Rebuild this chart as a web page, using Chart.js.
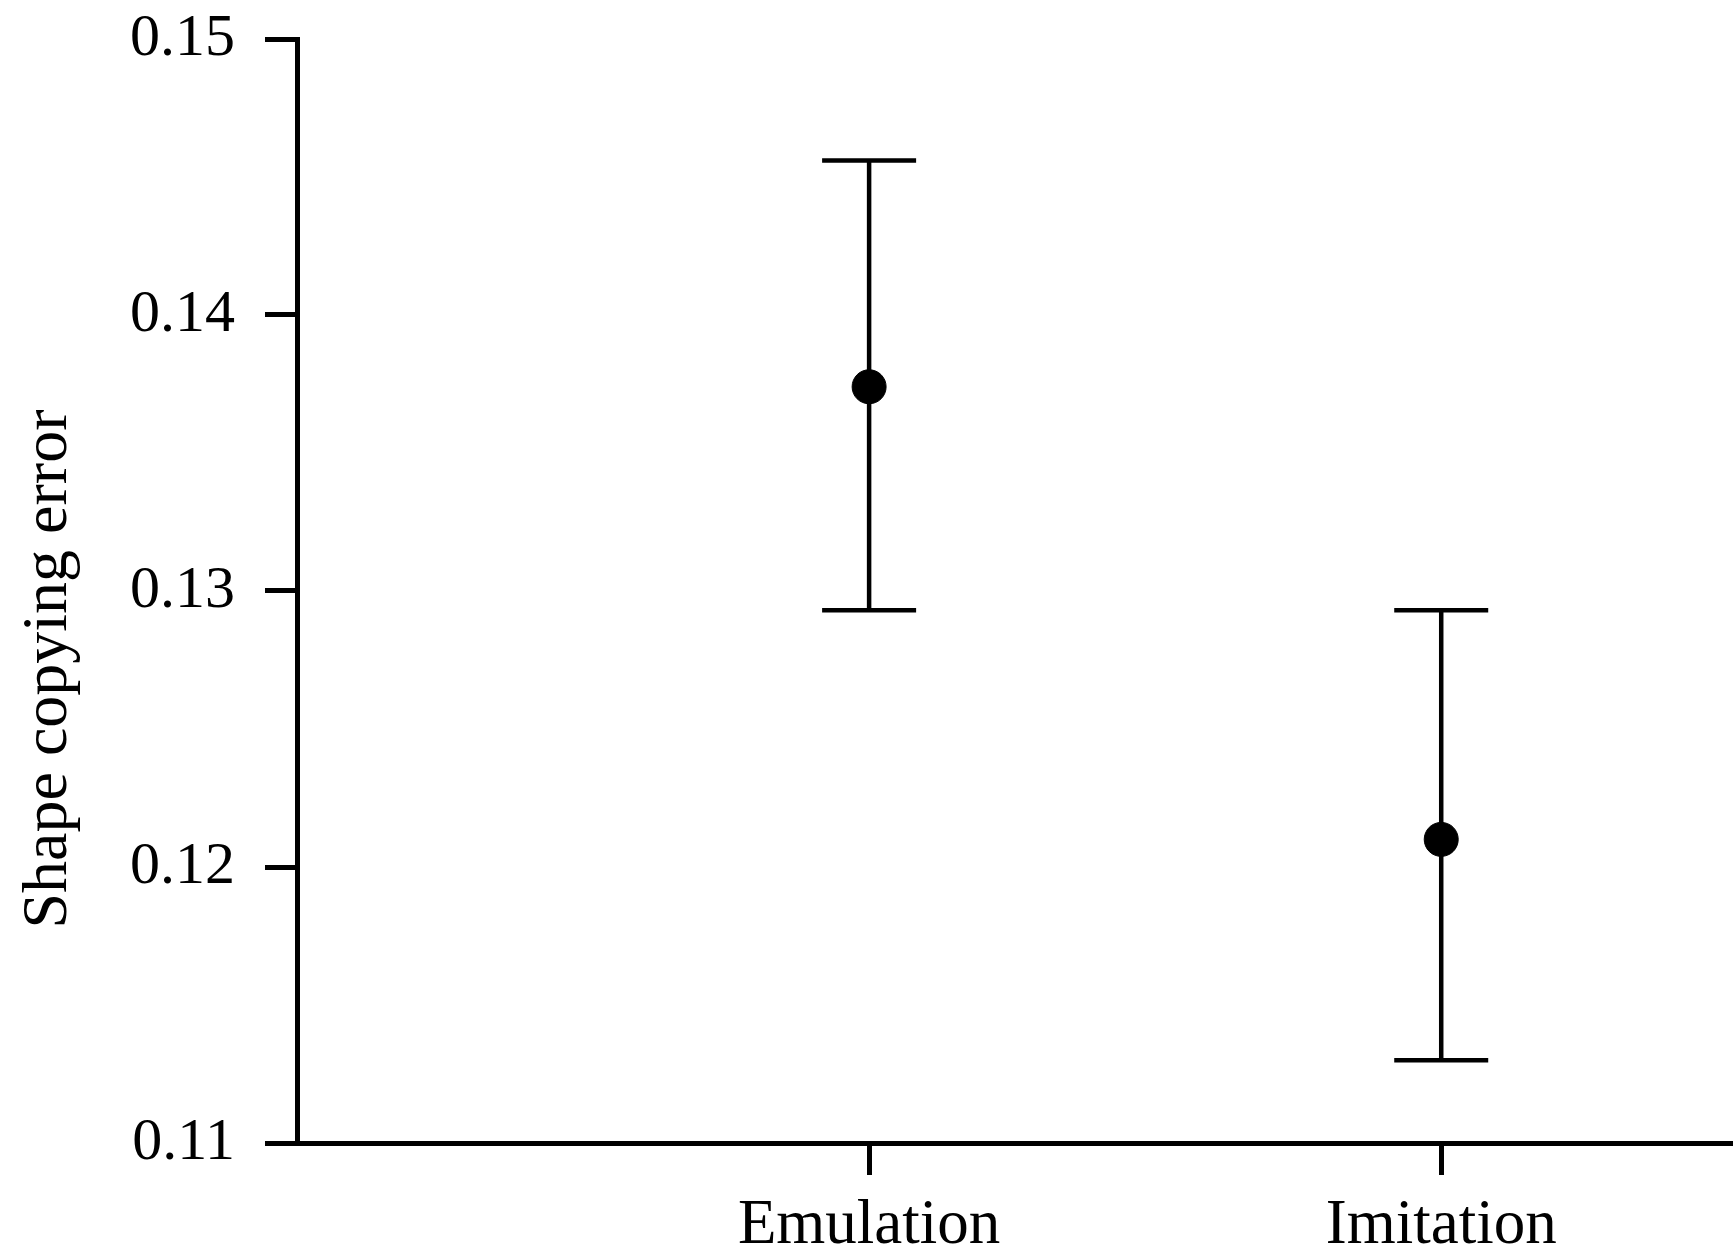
<!DOCTYPE html>
<html>
<head>
<meta charset="utf-8">
<script src="https://cdn.jsdelivr.net/npm/chart.js@4.4.1/dist/chart.umd.min.js"></script>
<style>
  html, body { margin: 0; padding: 0; background: #fff; }
  #wrap { width: 1733px; height: 1250px; position: relative; }
</style>
</head>
<body>
<div id="wrap"><canvas id="chart"></canvas></div>
<script>
// Data
const groups = ['Emulation', 'Imitation'];
const groupPos = [1, 2];
const means = [0.1374, 0.1210];
const upper = [0.1456, 0.1293];
const lower = [0.1293, 0.1130];
const yTicks = [0.11, 0.12, 0.13, 0.14, 0.15];
const yTitle = 'Shape copying error';

Chart.defaults.font.family = '"Liberation Serif", "Times New Roman", serif';
Chart.defaults.color = '#000';

// Draw the error bars under the points
const errorBars = {
    id: 'errorBars',
    beforeDatasetsDraw(chart) {
        const ctx = chart.ctx;
        const xs = chart.scales.x, ys = chart.scales.y;
        ctx.save();
        ctx.strokeStyle = '#000';
        ctx.lineWidth = 4.5;
        groupPos.forEach((g, i) => {
            const x = xs.getPixelForValue(g);
            const yt = ys.getPixelForValue(upper[i]);
            const yb = ys.getPixelForValue(lower[i]);
            const cap = 47;
            ctx.beginPath();
            ctx.moveTo(x, yt); ctx.lineTo(x, yb);
            ctx.moveTo(x - cap, yt); ctx.lineTo(x + cap, yt);
            ctx.moveTo(x - cap, yb); ctx.lineTo(x + cap, yb);
            ctx.stroke();
        });
        ctx.restore();
    }
};

// Y axis title, sits a bit below the centre of the axis like in the original
const axisTitle = {
    id: 'axisTitle',
    afterDraw(chart) {
        const ctx = chart.ctx;
        const area = chart.chartArea;
        ctx.save();
        ctx.translate(66, (area.top + area.bottom) / 2 + 78);
        ctx.rotate(-Math.PI / 2);
        ctx.font = '64px "Liberation Serif", "Times New Roman", serif';
        ctx.fillStyle = '#000';
        ctx.textAlign = 'center';
        ctx.textBaseline = 'alphabetic';
        ctx.fillText(yTitle, 0, 0);
        ctx.restore();
    }
};

const ctx = document.getElementById('chart').getContext('2d');
new Chart(ctx, {
    type: 'scatter',
    data: {
        datasets: [{
            data: groupPos.map((g, i) => ({ x: g, y: means[i] })),
            backgroundColor: '#000',
            borderColor: '#000',
            pointRadius: 17,
            pointHoverRadius: 17
        }]
    },
    options: {
        responsive: true,
        maintainAspectRatio: false,
        animation: false,
        layout: { autoPadding: false, padding: { top: 39, right: 0, bottom: 0, left: 0 } },
        plugins: { legend: { display: false }, tooltip: { enabled: false } },
        scales: {
            x: {
                type: 'linear',
                min: 0,
                max: 2.51,
                afterBuildTicks: (axis) => { axis.ticks = groupPos.map(v => ({ value: v })); },
                afterFit: (axis) => {
                    axis.height = 107;
                    axis.paddingLeft = 0;
                    axis.paddingRight = 0;
                },
                ticks: {
                    callback: (v) => groups[groupPos.indexOf(v)] || '',
                    font: { size: 63 },
                    padding: 14,
                    maxRotation: 0
                },
                grid: {
                    drawOnChartArea: false,
                    drawTicks: true,
                    tickLength: 32,
                    tickWidth: 5,
                    tickColor: '#000'
                },
                border: { display: true, color: '#000', width: 5 }
            },
            y: {
                min: 0.11,
                max: 0.15,
                afterBuildTicks: (axis) => { axis.ticks = yTicks.map(v => ({ value: v })); },
                afterFit: (axis) => {
                    axis.width = 297;
                    axis.paddingTop = 0;
                    axis.paddingBottom = 0;
                },
                ticks: {
                    callback: (v) => v.toFixed(2),
                    font: { size: 60 },
                    padding: 30
                },
                grid: {
                    drawOnChartArea: false,
                    drawTicks: true,
                    tickLength: 32,
                    tickWidth: 5,
                    tickColor: '#000'
                },
                border: { display: true, color: '#000', width: 5 }
            }
        }
    },
    plugins: [errorBars, axisTitle]
});
</script>
</body>
</html>
